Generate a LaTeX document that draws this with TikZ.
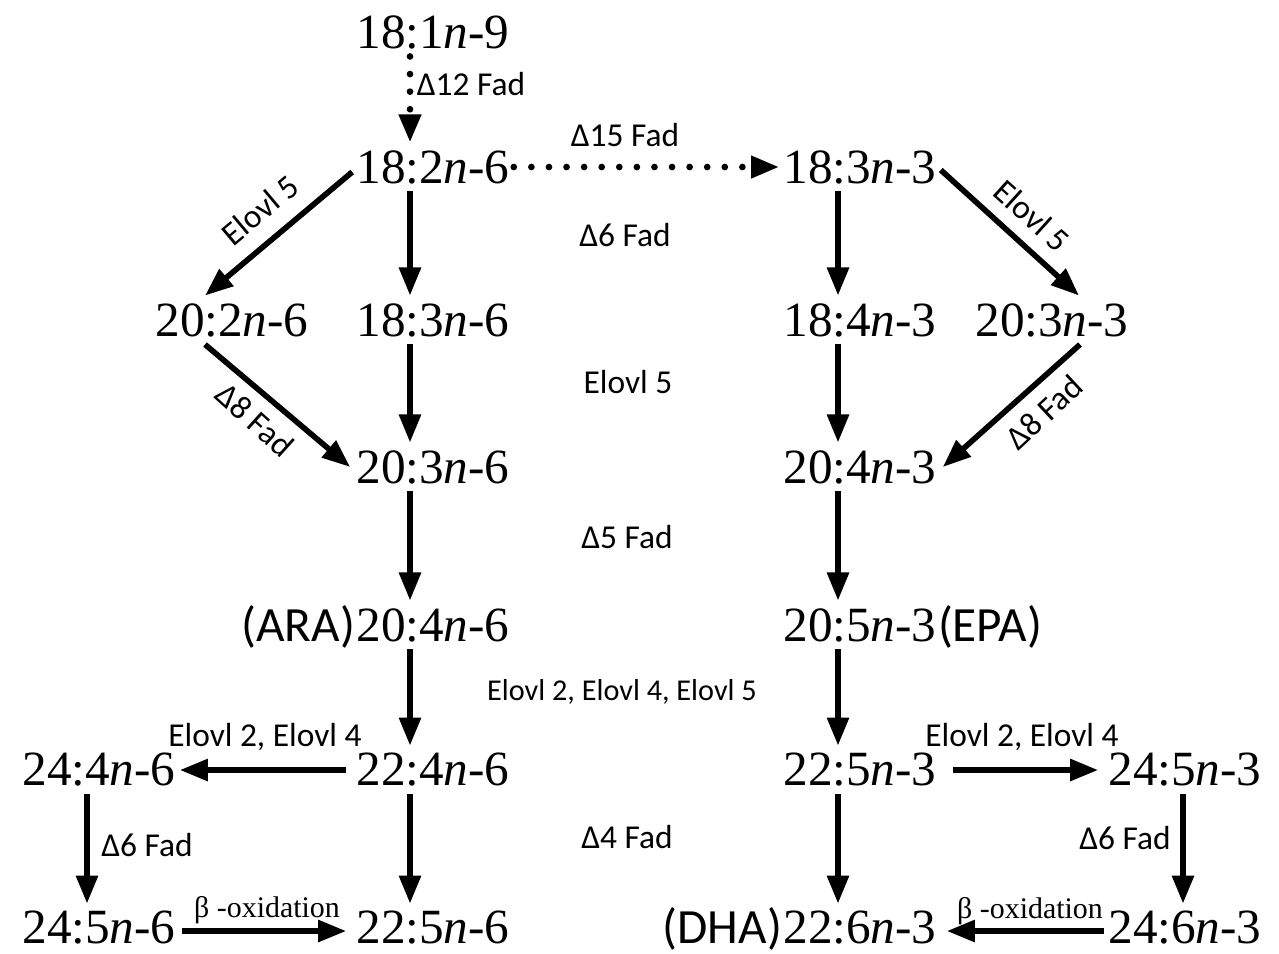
\documentclass[tikz,border=0pt]{standalone}
\usepackage{fontspec}
\setmainfont{Liberation Serif}
\newfontfamily\labfont{Carlito}
\usetikzlibrary{arrows.meta,calc}
\begin{document}
\begin{tikzpicture}[x=0.01cm,y=-0.01cm,
  cpd/.style={font=\fontsize{14}{16}\selectfont, inner xsep=1pt, inner ysep=2pt},
  pre/.style={font=\labfont\fontsize{14}{16}\selectfont, inner sep=0pt},
  enz/.style={font=\labfont\fontsize{9.5}{11}\selectfont, inner sep=0pt},
  box/.style={font=\fontsize{8.5}{10}\selectfont, inner sep=0pt},
  arr/.style={line width=1.6pt, -{Triangle[length=8pt,width=6pt]}},
  dotarr/.style={line width=1.9pt, line cap=round, dash pattern=on 0pt off 5pt, -{Triangle[length=8pt,width=6pt,line cap=butt]}}]
\useasboundingbox (0,0) rectangle (1279,953);
% column coordinates
\coordinate (xA) at (87,0);
\coordinate (xL) at (410,0);
\coordinate (xR) at (838,0);
\coordinate (xB) at (1183,0);
% compounds
\node[cpd] (a1) at (433,32) {18:1\textit{n}-9};
\node[cpd] (a2) at (433,167) {18:2\textit{n}-6};
\node[cpd] (b2) at (860,167) {18:3\textit{n}-3};
\node[cpd] (c3) at (232,320) {20:2\textit{n}-6};
\node[cpd] (a3) at (433,320) {18:3\textit{n}-6};
\node[cpd] (b3) at (860,320) {18:4\textit{n}-3};
\node[cpd] (d3) at (1052,320) {20:3\textit{n}-3};
\node[cpd] (a4) at (433,467) {20:3\textit{n}-6};
\node[cpd] (b4) at (860,467) {20:4\textit{n}-3};
\node[cpd] (a5) at (433,625) {20:4\textit{n}-6};
\node[pre, anchor=base east] (ara) at ([xshift=1pt]a5.base west) {(ARA)};
\node[cpd] (b5) at (860,625) {20:5\textit{n}-3};
\node[pre, anchor=base west] (epa) at ([xshift=-1pt]b5.base east) {(EPA)};
\node[cpd] (c6) at (99,770) {24:4\textit{n}-6};
\node[cpd] (a6) at (433,770) {22:4\textit{n}-6};
\node[cpd] (b6) at (860,770) {22:5\textit{n}-3};
\node[cpd] (d6) at (1185,770) {24:5\textit{n}-3};
\node[cpd] (c7) at (99,928) {24:5\textit{n}-6};
\node[cpd] (a7) at (433,928) {22:5\textit{n}-6};
\node[cpd] (b7) at (860,928) {22:6\textit{n}-3};
\node[pre, anchor=base east] (dha) at ([xshift=1pt]b7.base west) {(DHA)};
\node[cpd] (d7) at (1185,928) {24:6\textit{n}-3};
% dotted arrows
\draw[dotarr] (a1.south -| xL) -- (a2.north -| xL);
\draw[dotarr] (a2.east) -- (b2.west);
% diagonals
\draw[arr] ($(a2.west)+(0,5)$) -- ($(c3.north)+(-27,0)$);
\draw[arr] ($(b2.east)+(0,3)$) -- ($(d3.north)+(27,0)$);
\draw[arr] ($(c3.south)+(-27,0)$) -- ($(a4.west)+(-2,0)$);
\draw[arr] ($(d3.south)+(28,0)$) -- ($(b4.east)+(2,0)$);
% verticals
\draw[arr] (a2.south -| xL) -- (a3.north -| xL);
\draw[arr] (b2.south -| xR) -- (b3.north -| xR);
\draw[arr] (a3.south -| xL) -- (a4.north -| xL);
\draw[arr] (b3.south -| xR) -- (b4.north -| xR);
\draw[arr] (a4.south -| xL) -- (a5.north -| xL);
\draw[arr] (b4.south -| xR) -- (b5.north -| xR);
\draw[arr] (a5.south -| xL) -- (a6.north -| xL);
\draw[arr] (b5.south -| xR) -- (b6.north -| xR);
\draw[arr] (a6.south -| xL) -- (a7.north -| xL);
\draw[arr] (b6.south -| xR) -- (b7.north -| xR);
\draw[arr] (c6.south -| xA) -- (c7.north -| xA);
\draw[arr] (d6.south -| xB) -- (d7.north -| xB);
% horizontals
\draw[arr] ($(a6.west)+(-6,0)$) -- (c6.east);
\draw[arr] ($(b6.east)+(12,0)$) -- ($(d6.west)+(-6,0)$);
\draw[arr] ($(c7.east)+(2,3)$) -- ($(a7.west)+(-6,3)$);
\draw[arr] ($(d7.west)+(0,3)$) -- ($(b7.east)+(6,3)$);
% enzyme labels
\node[enz] (l1) at (471,84) {Δ12 Fad};
\node[enz] (l2) at (625,135) {Δ15 Fad};
\node[enz, rotate=40] (l3) at (260,210) {Elovl 5};
\node[enz, rotate=-42] (l4) at (1032,216) {Elovl 5};
\node[enz] (l5) at (625,235) {Δ6 Fad};
\node[enz] (l6) at (628,382) {Elovl 5};
\node[enz, rotate=-42] (l7) at (255,420) {Δ8 Fad};
\node[enz, rotate=43] (l8) at (1044,412) {Δ8 Fad};
\node[enz] (l9) at (627,537) {Δ5 Fad};
\node[enz, font=\labfont\fontsize{8.6}{10}\selectfont] (l10) at (622,692) {Elovl 2, Elovl 4, Elovl 5};
\node[enz] (l11) at (265,737) {Elovl 2, Elovl 4};
\node[enz] (l12) at (1022,737) {Elovl 2, Elovl 4};
\node[enz] (l13) at (147,845) {Δ6 Fad};
\node[enz] (l14) at (627,837) {Δ4 Fad};
\node[enz] (l15) at (1125,838) {Δ6 Fad};
\node[box] (l16) at (267,910) {β -oxidation};
\node[box] (l17) at (1030,911) {β -oxidation};
\end{tikzpicture}
\end{document}
